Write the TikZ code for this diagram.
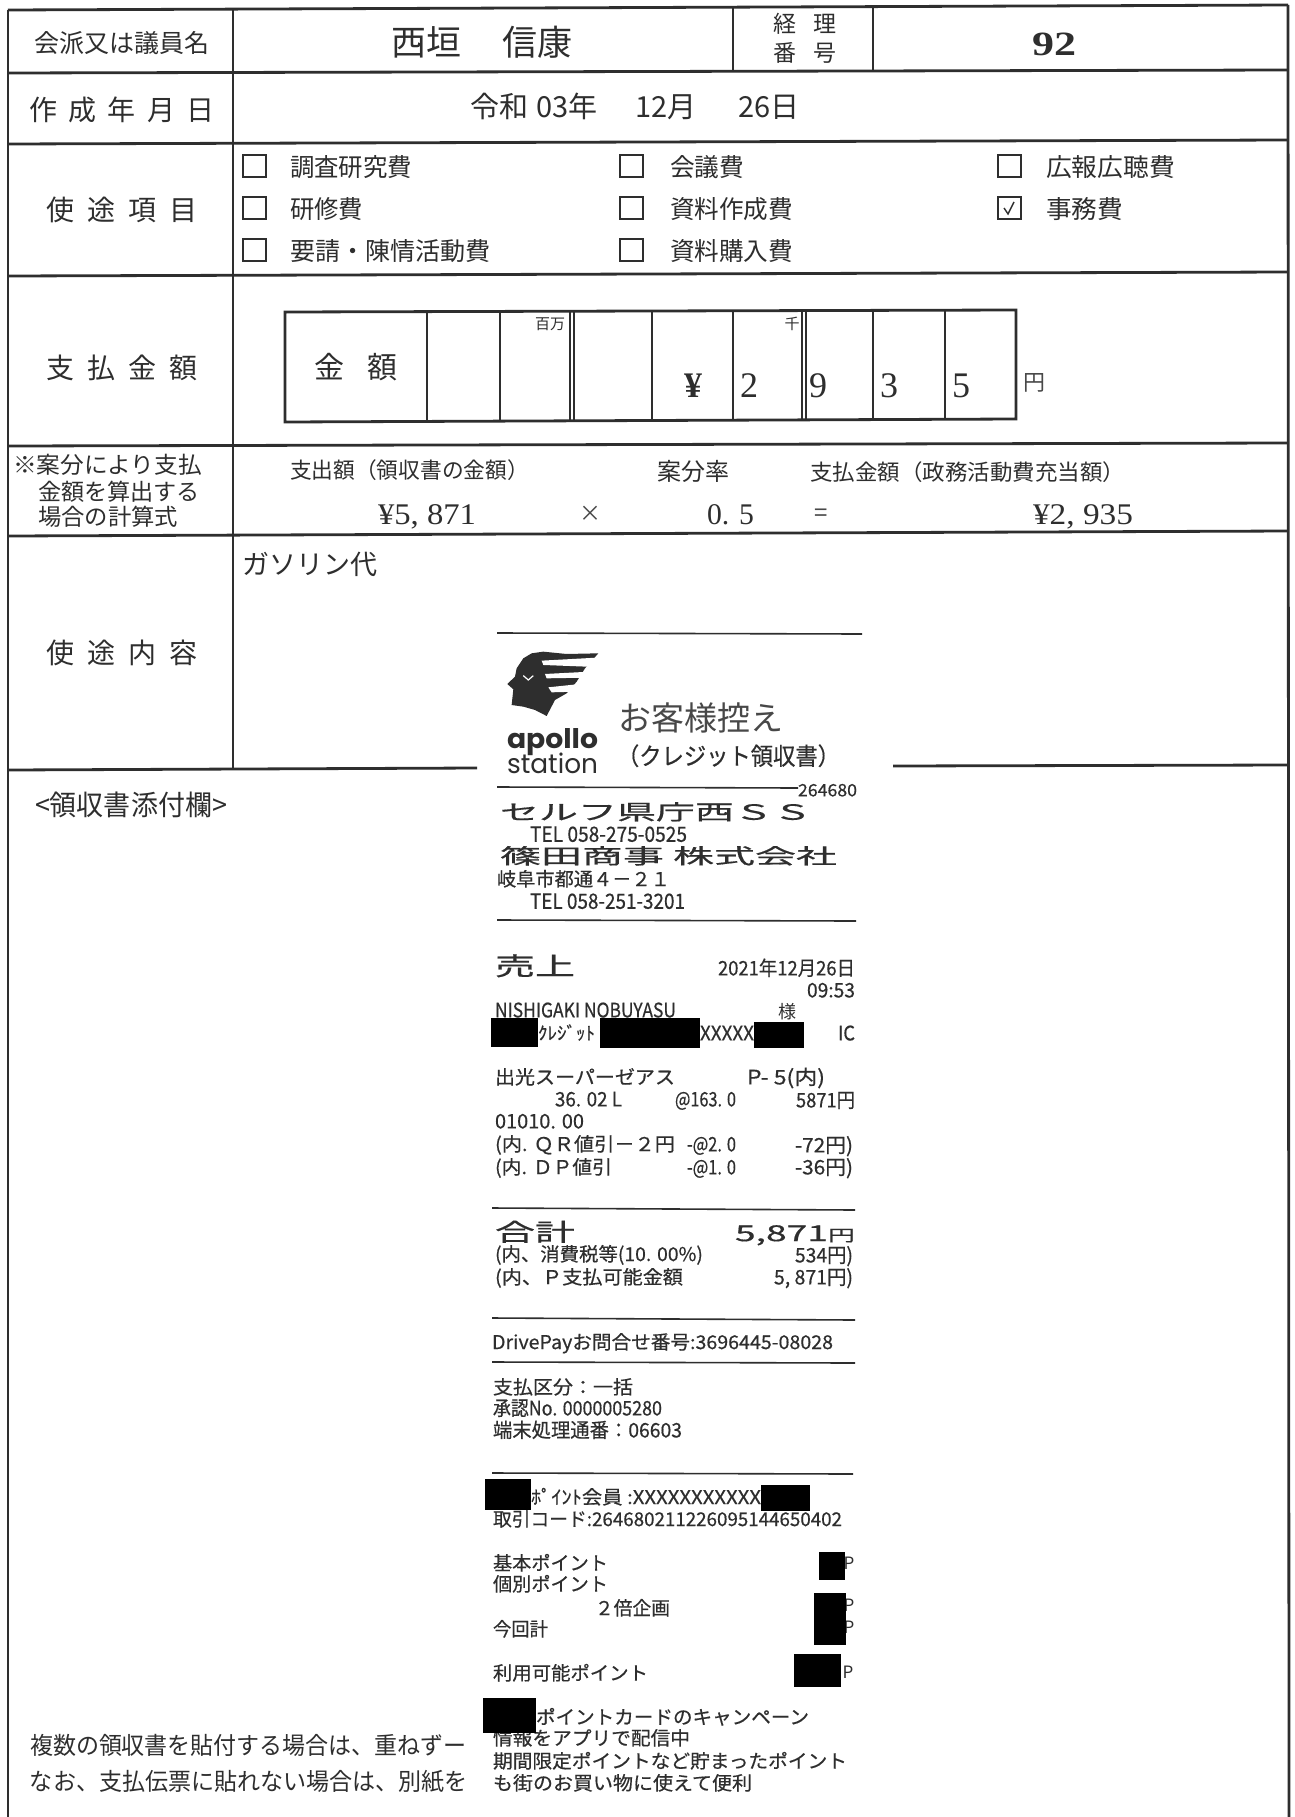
\documentclass[tikz,border=0pt]{standalone}
\usepackage{fontspec}
\usepackage{graphicx}
\setmainfont{Noto Sans CJK JP}
\newfontfamily\lserif{Liberation Serif}
\newfontfamily\pop{Poppins}
\newfontfamily\med{Noto Sans CJK JP}[FakeBold=0.5]
\definecolor{ink}{HTML}{2E2E2E}
\definecolor{inksoft}{HTML}{484848}
\newcommand\fitw[2]{\resizebox{#1pt}{\height}{#2}}
\tikzset{
  txt/.style={inner sep=0pt,outer sep=0pt,text=ink,font=\fontsize{#1}{#1}\selectfont,text height={0.86*#1pt},text depth={0.12*#1pt}},
  tl/.style={txt=#1,anchor=west},
  tc/.style={txt=#1,anchor=center},
  rc/.style={txt=#1,anchor=west,font=\fontsize{#1}{#1}\selectfont\med},
  rule/.style={draw=ink,line width=2.8pt},
  thin rule/.style={draw=ink,line width=2.2pt},
  rline/.style={draw=ink,line width=1.6pt},
  cbox/.style={draw=ink,line width=2pt,inner sep=0pt,minimum width=23pt,minimum height=22pt},
  redact/.style={fill=black,draw=none}
}
\begin{document}
\begin{tikzpicture}[x=1pt,y=-1pt]
\useasboundingbox (0,0) rectangle (1294,1817);
\fill[white] (0,0) rectangle (1294,1817);
% ---- form frame
\draw[rule] (8,10) -- (1288,5);
\draw[rule] (8,73) -- (1288,70);
\draw[rule] (8,144) -- (1288,140);
\draw[rule] (8,276) -- (1288,272);
\draw[rule] (8,446) -- (1288,443);
\draw[rule] (8,536) -- (1288,531);
\draw[rule] (8,770) -- (477,768);
\draw[rule] (893,766) -- (1289,765);
\draw[rule] (8,10) -- (8,1817);
\draw[rule] (1288,5) -- (1289,1817);
\draw[rule] (233,9) -- (233,770);
\draw[thin rule] (733,7) -- (733,71);
\draw[thin rule] (873,6) -- (873,71);
% ---- row 1
\node (n1) [tc=25] at (122,43) {会派又は議員名};
\node (n2) [tc=35] at (482,43) {\spaceskip=41pt 西垣 信康};
\node (n3) [tc=23] at (805,24) {\spaceskip=17pt 経 理};
\node (n4) [tc=23] at (805,53) {\spaceskip=17pt 番 号};
\node (n5) [tc=34] at (1054,43) {\fitw{44}{\lserif\bfseries 92}};
% ---- row 2
\node (n6) [tc=28] at (122,110) {\spaceskip=11.5pt 作 成 年 月 日};
\node (n7) [tc=29] at (635,107) {令和\hspace{8pt}03年\hspace{38pt}12月\hspace{42pt}26日};
% ---- row 3
\node (n8) [tc=28] at (122,210) {\spaceskip=13pt 使 途 項 目};
\node (c1) [cbox] at (254,166) {};
\node (c2) [cbox] at (254,208) {};
\node (c3) [cbox] at (254,250) {};
\node (c4) [cbox] at (631,166) {};
\node (c5) [cbox] at (631,208) {};
\node (c6) [cbox] at (631,250) {};
\node (c7) [cbox] at (1009,166) {};
\node (c8) [cbox] at (1009,208) {};
\draw[ink,line width=1.4pt] (1004,208) -- (1008,214) -- (1014,202);
\node (n9)  [tl=25] at (290,167) {\fitw{122}{調査研究費}};
\node (n10) [tl=25] at (290,209) {\fitw{73}{研修費}};
\node (n11) [tl=25] at (290,251) {\fitw{201}{要請・陳情活動費}};
\node (n12) [tl=25] at (670,167) {\fitw{74}{会議費}};
\node (n13) [tl=25] at (670,209) {\fitw{123}{資料作成費}};
\node (n14) [tl=25] at (670,251) {\fitw{123}{資料購入費}};
\node (n15) [tl=25] at (1046,167) {\fitw{129}{広報広聴費}};
\node (n16) [tl=25] at (1046,209) {\fitw{77}{事務費}};
% ---- row 4
\node (n17) [tc=28] at (122,368) {\spaceskip=13pt 支 払 金 額};
\draw[rule] (285,312) -- (1016,310) -- (1016,419) -- (285,422) -- cycle;
\draw[thin rule] (427,312) -- (427,421);
\draw[thin rule] (500,312) -- (500,421);
\draw[thin rule] (570,311) -- (570,421);
\draw[thin rule] (574,311) -- (574,421);
\draw[thin rule] (652,311) -- (652,420);
\draw[thin rule] (733,311) -- (733,420);
\draw[thin rule] (802,310) -- (802,420);
\draw[thin rule] (806,310) -- (806,420);
\draw[thin rule] (873,310) -- (873,420);
\draw[thin rule] (945,310) -- (945,419);
\node (n18) [tc=30] at (356,367) {\spaceskip=23pt 金 額};
\node (n19) [tc=15] at (550,324) {百万};
\node (n20) [tc=15] at (792,324) {千};
\node (n21) [tc=36] at (693,384) {\lserif\bfseries ¥};
\node (n22) [tc=36] at (749,384) {\lserif 2};
\node (n23) [tc=36] at (818,384) {\lserif 9};
\node (n24) [tc=36] at (889,384) {\lserif 3};
\node (n25) [tc=36] at (961,384) {\lserif 5};
\node (n26) [tc=22,text=inksoft] at (1034,382) {円};
% ---- row 5
\node (n27) [tl=23] at (13,465) {\fitw{189}{※案分により支払}};
\node (n28) [tl=23] at (38,492) {\fitw{162}{金額を算出する}};
\node (n29) [tl=23] at (38,517) {\fitw{140}{場合の計算式}};
\node (n30) [tl=22] at (290,470) {\fitw{239}{支出額（領収書の金額）}};
\node (n31) [tl=24] at (657,472) {案分率};
\node (n32) [tl=22] at (810,472) {\fitw{315}{支払金額（政務活動費充当額）}};
\node (n33) [tl=30] at (378,513) {\fitw{98}{\lserif ¥5, 871}};
\node (n34) [tc=22,text=inksoft] at (590,513) {×};
\node (n35) [tl=30] at (707,513) {\fitw{47}{\lserif 0. 5}};
\node (n36) [tc=24,text=inksoft] at (821,513) {=};
\node (n37) [tl=30] at (1033,513) {\fitw{100}{\lserif ¥2, 935}};
% ---- row 6
\node (n38) [tc=28] at (122,653) {\spaceskip=13pt 使 途 内 容};
\node (n39) [tl=27] at (242,565) {ガソリン代};
\node (n40) [tl=28] at (35,805) {\fitw{192}{<領収書添付欄>}};
\node (n41) [tl=24] at (30,1746) {\fitw{437}{複数の領収書を貼付する場合は、重ねずー}};
\node (n42) [tl=24] at (30,1782) {\fitw{438}{なお、支払伝票に貼れない場合は、別紙を}};
% ---- receipt rules
\draw[rline] (497,633) -- (862,634);
\draw[rline] (497,787) -- (798,788);
\draw[rline] (497,920) -- (856,921);
\draw[rline] (492,1208) -- (855,1210);
\draw[rline] (492,1318) -- (855,1320);
\draw[rline] (492,1362) -- (855,1363);
\draw[rline] (492,1473) -- (853,1474);
% ---- logo
\begin{scope}[shift={(400,530)},x=0.3333pt,y=-0.3333pt]
\fill[ink] (595,370) -- (500,372) -- (430,365) -- (395,370) -- (370,385) -- (350,415) -- (345,440) -- (322,462) -- (340,478) -- (335,525) -- (370,530) -- (405,540) -- (440,558) -- (465,510) -- (500,490) -- (530,455) -- (555,415) -- cycle;
\fill[white] (425,392) -- (590,383) -- (585,398) -- (560,410) -- (430,405) -- cycle;
\fill[white] (435,432) -- (570,425) -- (560,443) -- (440,445) -- cycle;
\fill[white] (445,472) -- (540,462) -- (530,485) -- (455,487) -- cycle;
\draw[white,line width=1.2pt] (370,437) -- (385,450) -- (400,437);
\end{scope}
\node (r1) [tl=27] at (507,739) {\fitw{91}{\pop\bfseries apollo}};
\node (r2) [tl=27] at (507,764) {\fitw{91}{\pop station}};
\node (r3) [tl=33,text=inksoft] at (618,718) {\fitw{165}{お客様控え}};
\node (r4) [rc=24] at (617,756) {\fitw{223}{（クレジット領収書）}};
\node (r5) [rc=17] at (798,790) {\fitw{59}{264680}};
\node (r6) [rc=21] at (500,812) {\fitw{312}{セルフ県庁西ＳＳ}};
\node (r7) [rc=21] at (530,834) {\fitw{157}{TEL 058-275-0525}};
\node (r8) [rc=21] at (500,856) {\fitw{337}{篠田商事 株式会社}};
\node (r9) [rc=19] at (497,879) {\fitw{173}{岐阜市都通４－２１}};
\node (r10) [rc=21] at (530,901) {\fitw{155}{TEL 058-251-3201}};
\node (r11) [rc=25] at (495,966) {\fitw{80}{売上}};
\node (r12) [rc=20] at (718,968) {\fitw{137}{2021年12月26日}};
\node (r13) [rc=20] at (807,990) {\fitw{48}{09:53}};
\node (r14) [rc=20] at (495,1010) {\fitw{181}{NISHIGAKI NOBUYASU}};
\node (r15) [tc=18] at (787,1012) {様};
\node (r16) [rc=18] at (538,1033) {\fitw{57}{ｸﾚｼﾞｯﾄ}};
\node (r17) [rc=20] at (700,1033) {\fitw{54}{XXXXX}};
\node (r18) [rc=20] at (838,1033) {\fitw{17}{IC}};
\node (r19) [rc=19] at (495,1077) {\fitw{180}{出光スーパーゼアス}};
\node (r20) [rc=20] at (747,1077) {\fitw{78}{P- 5(内)}};
\node (r21) [rc=20] at (555,1099) {\fitw{67}{36. 02 L}};
\node (r22) [rc=20] at (675,1099) {\fitw{61}{@163. 0}};
\node (r23) [rc=20] at (796,1100) {\fitw{59}{5871円}};
\node (r24) [rc=20] at (495,1121) {\fitw{89}{01010. 00}};
\node (r25) [rc=19] at (495,1144) {\fitw{180}{(内. ＱＲ値引－２円}};
\node (r26) [rc=20] at (687,1144) {\fitw{49}{-@2. 0}};
\node (r27) [rc=20] at (795,1145) {\fitw{58}{-72円)}};
\node (r28) [rc=19] at (495,1167) {\fitw{117}{(内. ＤＰ値引}};
\node (r29) [rc=20] at (687,1167) {\fitw{49}{-@1. 0}};
\node (r30) [rc=20] at (795,1167) {\fitw{58}{-36円)}};
\node (r31) [rc=24] at (495,1232) {\fitw{80}{合計}};
\node (r32) [rc=22] at (735,1233) {\fitw{120}{5,871{\fontsize{16}{16}\selectfont 円}}};
\node (r33) [rc=19] at (495,1254) {\fitw{208}{(内、消費税等(10. 00\%)}};
\node (r34) [rc=20] at (795,1255) {\fitw{58}{534円)}};
\node (r35) [rc=19] at (495,1277) {\fitw{188}{(内、Ｐ支払可能金額}};
\node (r36) [rc=20] at (774,1277) {\fitw{79}{5, 871円)}};
\node (r37) [rc=19] at (492,1342) {\fitw{341}{DrivePayお問合せ番号:3696445-08028}};
\node (r38) [rc=19] at (493,1387) {\fitw{140}{支払区分：一括}};
\node (r39) [rc=20] at (493,1408) {\fitw{169}{承認No. 0000005280}};
\node (r40) [rc=20] at (493,1430) {\fitw{189}{端末処理通番：06603}};
\node (r41) [rc=19] at (531,1497) {\fitw{230}{ﾎﾟｲﾝﾄ会員 :XXXXXXXXXXX}};
\node (r42) [rc=19] at (493,1519) {\fitw{349}{取引コード:264680211226095144650402}};
\node (r43) [rc=19] at (493,1563) {\fitw{115}{基本ポイント}};
\node (r44) [rc=19] at (493,1584) {\fitw{115}{個別ポイント}};
\node (r45) [rc=19] at (595,1608) {\fitw{75}{２倍企画}};
\node (r46) [rc=19] at (493,1629) {\fitw{55}{今回計}};
\node (r47) [rc=19] at (493,1673) {\fitw{155}{利用可能ポイント}};
\node (r48) [rc=19] at (536,1717) {\fitw{273}{ポイントカードのキャンペーン}};
\node (r49) [rc=19] at (493,1738) {\fitw{197}{情報をアプリで配信中}};
\node (r50) [rc=19] at (493,1761) {\fitw{354}{期間限定ポイントなど貯まったポイント}};
\node (r51) [rc=19] at (493,1783) {\fitw{259}{も街のお買い物に使えて便利}};
\node (r52) [tc=17] at (849,1563) {P};
\node (r53) [tc=17] at (849,1605) {P};
\node (r54) [tc=17] at (849,1627) {P};
\node (r55) [tc=17] at (848,1672) {P};
% ---- redactions
\fill[redact] (491,1018) rectangle (538,1047);
\fill[redact] (600,1018) rectangle (700,1048);
\fill[redact] (754,1022) rectangle (804,1048);
\fill[redact] (485,1479) rectangle (531,1510);
\fill[redact] (761,1485) rectangle (810,1511);
\fill[redact] (819,1552) rectangle (845,1580);
\fill[redact] (814,1593) rectangle (846,1645);
\fill[redact] (794,1654) rectangle (841,1687);
\fill[redact] (483,1698) rectangle (536,1733);
\end{tikzpicture}
\end{document}
